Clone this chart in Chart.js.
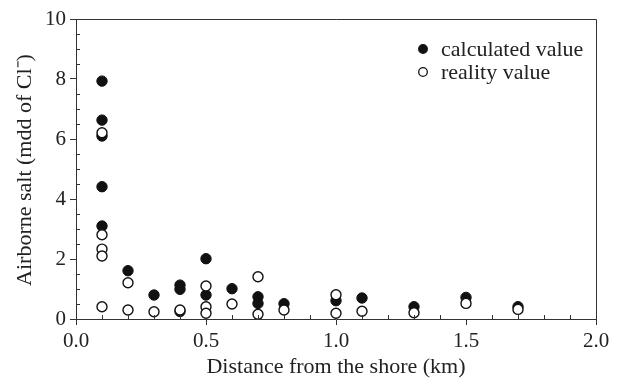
<!DOCTYPE html>
<html>
<head>
<meta charset="utf-8">
<script src="https://cdn.jsdelivr.net/npm/chart.js@4/dist/chart.umd.min.js"></script>
<style>
  html, body { margin: 0; padding: 0; background: #fff; }
  canvas { display: block; }
</style>
</head>
<body>
<canvas id="myChart" width="621" height="383"></canvas>
<script>
// data
const calcX = [0.1, 0.1, 0.1, 0.1, 0.1, 0.2, 0.3, 0.4, 0.4, 0.4, 0.5, 0.5, 0.6, 0.7, 0.7, 0.8, 1.0, 1.1, 1.3, 1.5, 1.7]
const calcY = [7.93, 6.63, 6.1, 4.41, 3.1, 1.61, 0.8, 1.13, 0.99, 0.25, 2.01, 0.8, 1.01, 0.74, 0.52, 0.51, 0.61, 0.7, 0.41, 0.72, 0.41]

const realX = [0.1, 0.1, 0.1, 0.1, 0.1, 0.2, 0.2, 0.3, 0.4, 0.5, 0.5, 0.5, 0.6, 0.7, 0.7, 0.8, 1.0, 1.0, 1.1, 1.3, 1.5, 1.7]
const realY = [6.21, 2.81, 2.33, 2.1, 0.41, 1.21, 0.3, 0.24, 0.3, 1.1, 0.41, 0.19, 0.5, 1.41, 0.16, 0.3, 0.81, 0.19, 0.26, 0.21, 0.52, 0.32]

const seriesNames = ['calculated value', 'reality value']
const xTitle = 'Distance from the shore (km)'
const yTitle = 'Airborne salt (mdd of Cl\u207B)'

const serif = '"Liberation Serif", "Times New Roman", serif'

function toPoints(xs, ys){
    return xs.map(function(x, i){
        return {x: x, y: ys[i]}
    })
}

// frame on top/right + small inward minor ticks + legend
const framePlugin = {
    id: 'framePlugin',
    afterDraw(chart){
        const ctx = chart.ctx
        const a = chart.chartArea
        const x = chart.scales.x
        const y = chart.scales.y
        ctx.save()
        ctx.strokeStyle = '#333'
        ctx.lineWidth = 1
        ctx.beginPath()
        ctx.moveTo(a.left, a.top + 0.5)
        ctx.lineTo(a.right + 0.5, a.top + 0.5)
        ctx.lineTo(a.right + 0.5, a.bottom)
        // x minor ticks (every 0.1)
        for (let i = 1; i < 20; i++){
            if (i % 5 === 0) continue
            const px = Math.round(x.getPixelForValue(i / 10)) + 0.5
            ctx.moveTo(px, a.bottom)
            ctx.lineTo(px, a.bottom - 4)
        }
        // y minor ticks (every 0.5)
        for (let i = 1; i < 20; i++){
            if (i % 4 === 0) continue
            const py = Math.round(y.getPixelForValue(i / 2)) + 0.5
            ctx.moveTo(a.left, py)
            ctx.lineTo(a.left + 4, py)
        }
        ctx.stroke()

        // legend
        ctx.font = '22px ' + serif
        ctx.textBaseline = 'middle'
        const lx = 423, ly = [49, 72]
        chart.data.datasets.forEach(function(ds, i){
            ctx.beginPath()
            ctx.arc(lx, ly[i], 4.3, 0, Math.PI * 2)
            ctx.fillStyle = ds.backgroundColor
            ctx.fill()
            ctx.lineWidth = 1.3
            ctx.strokeStyle = ds.borderColor
            ctx.stroke()
            ctx.fillStyle = '#222'
            ctx.fillText(ds.label, 441, ly[i] + 1)
        })

        // y axis title, centred on the plot height
        ctx.save()
        ctx.translate(25, (a.top + a.bottom) / 2 + 1)
        ctx.rotate(-Math.PI / 2)
        ctx.textAlign = 'center'
        ctx.font = '22px ' + serif
        ctx.fillStyle = '#222'
        ctx.fillText(yTitle, 0, 0)
        ctx.restore()
        ctx.restore()
    }
}

const data = {
    datasets: [{
        label: seriesNames[0],
        data: toPoints(calcX, calcY),
        backgroundColor: '#111',
        borderColor: '#111',
        borderWidth: 1,
        pointRadius: 5.2,
        order: 2
    }, {
        label: seriesNames[1],
        data: toPoints(realX, realY),
        backgroundColor: '#fff',
        borderColor: '#111',
        borderWidth: 1.4,
        pointRadius: 5,
        order: 1
    }]
}

const config = {
    type: 'scatter',
    data,
    options: {
        responsive: false,
        animation: false,
        devicePixelRatio: 1,
        layout: { padding: { top: 19, right: 25, left: 0, bottom: 0 } },
        plugins: {
            legend: { display: false },
            tooltip: { enabled: false }
        },
        scales: {
            x: {
                type: 'linear',
                min: 0,
                max: 2,
                afterFit(scale){ scale.height = 64 },
                ticks: {
                    stepSize: 0.5,
                    padding: 4,
                    color: '#222',
                    font: { family: serif, size: 21 },
                    callback: function(v){ return v.toFixed(1) }
                },
                grid: { display: true, drawOnChartArea: false, drawTicks: true, tickLength: 6, color: '#333' },
                border: { display: true, color: '#333', width: 1 },
                title: {
                    display: true,
                    text: xTitle,
                    color: '#222',
                    font: { family: serif, size: 22 },
                    padding: { top: 0, bottom: 3 }
                }
            },
            y: {
                min: 0,
                max: 10,
                afterFit(scale){ scale.width = 76 },
                ticks: {
                    stepSize: 2,
                    padding: 4,
                    color: '#222',
                    font: { family: serif, size: 21 }
                },
                grid: { display: true, drawOnChartArea: false, drawTicks: true, tickLength: 6, color: '#333' },
                border: { display: true, color: '#333', width: 1 },
                title: { display: false }
            }
        }
    },
    plugins: [framePlugin]
}

let myChart = new Chart(document.getElementById('myChart'), config)
</script>
</body>
</html>
